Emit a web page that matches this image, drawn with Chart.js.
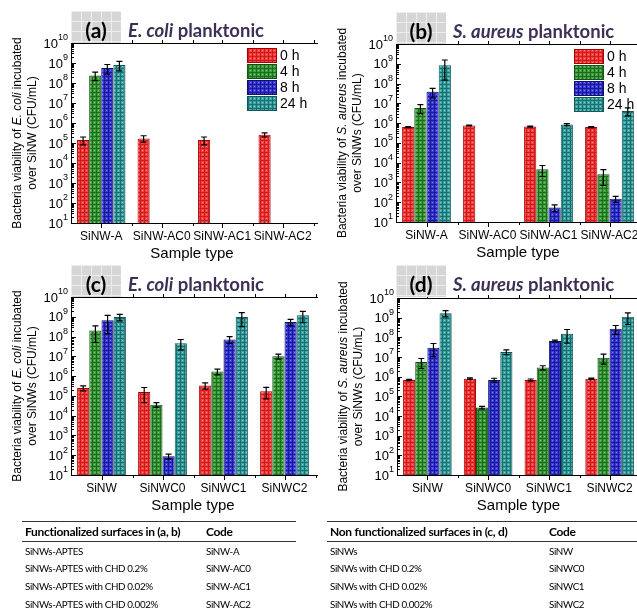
<!DOCTYPE html>
<html>
<head>
<meta charset="utf-8">
<script src="https://cdn.jsdelivr.net/npm/chart.js@4.4.1/dist/chart.umd.min.js"></script>
<style>
  body { margin: 0; width: 637px; height: 614px; overflow: hidden; background: #fff; position: relative; font-family: "Liberation Sans", Arial, sans-serif; }
  canvas { position: absolute; }
  .ttl { position: absolute; height: 32px; display: flex; align-items: center; }
  .box { width: 50px; height: 32px; background-color: #d6d6d6;
         background-image: linear-gradient(#ededed 1px, transparent 1px), linear-gradient(90deg, #ededed 1px, transparent 1px);
         background-size: 10px 10px; font: bold 21px Lato, sans-serif; color: #000; text-align: center; line-height: 38px; }
  .name { font: bold 18.5px Lato, sans-serif; color: #3d2f55; margin-left: 7px; padding-top: 6px; }
  table { position: absolute; border-collapse: collapse; font-family: Lato, sans-serif; color: #000; }
  th { font-size: 12px; letter-spacing: -0.3px; font-weight: bold; text-align: left; height: 19px; padding: 0 3px; border-top: 1.5px solid #333; border-bottom: 1px solid #333; }
  td { font-size: 9.8px; letter-spacing: -0.35px; height: 17.6px; padding: 0 3px; }
</style>
</head>
<body>
<canvas id="ca" width="318" height="262" style="left:0;top:0"></canvas>
<canvas id="cb" width="330" height="262" style="left:318px;top:0"></canvas>
<canvas id="cc" width="318" height="262" style="left:0;top:262px"></canvas>
<canvas id="cd" width="330" height="262" style="left:318px;top:262px"></canvas>

<div class="ttl" style="left:71px;top:11px"><div class="box">(a)</div><div class="name"><i>E. coli</i> planktonic</div></div>
<div class="ttl" style="left:396px;top:12px"><div class="box">(b)</div><div class="name"><i>S. aureus</i> planktonic</div></div>
<div class="ttl" style="left:71px;top:265px"><div class="box">(c)</div><div class="name"><i>E. coli</i> planktonic</div></div>
<div class="ttl" style="left:396px;top:265px"><div class="box">(d)</div><div class="name"><i>S. aureus</i> planktonic</div></div>

<table style="left:22px;top:521px;width:274px">
  <tr><th style="width:175px">Functionalized surfaces in (a, b)</th><th>Code</th></tr>
  <tr><td>SiNWs-APTES</td><td>SiNW-A</td></tr>
  <tr><td>SiNWs-APTES with CHD 0.2%</td><td>SiNW-AC0</td></tr>
  <tr><td>SiNWs-APTES with CHD 0.02%</td><td>SiNW-AC1</td></tr>
  <tr><td>SiNWs-APTES with CHD 0.002%</td><td>SiNW-AC2</td></tr>
</table>
<table style="left:327px;top:521px;width:320px">
  <tr><th style="width:213px">Non functionalized surfaces in (c, d)</th><th>Code</th></tr>
  <tr><td>SiNWs</td><td>SiNW</td></tr>
  <tr><td>SiNWs with CHD 0.2%</td><td>SiNWC0</td></tr>
  <tr><td>SiNWs with CHD 0.02%</td><td>SiNWC1</td></tr>
  <tr><td>SiNWs with CHD 0.002%</td><td>SiNWC2</td></tr>
</table>

<script>
// ---- data (CFU/mL), one row per incubation time, one column per sample ----
const times = ['0 h', '4 h', '8 h', '24 h']
const catsAB = ['SiNW-A', 'SiNW-AC0', 'SiNW-AC1', 'SiNW-AC2']
const catsCD = ['SiNW', 'SiNWC0', 'SiNWC1', 'SiNWC2']

const ecoliA = [
  [1.4e5, 1.7e5, 1.4e5, 2.6e5],
  [2.4e8, null, null, null],
  [5.6e8, null, null, null],
  [8.0e8, null, null, null]]
const ecoliAErr = [
  [6e4, 6e4, 6e4, 6e4],
  [1.1e8, 0, 0, 0],
  [2.8e8, 0, 0, 0],
  [4.0e8, 0, 0, 0]]

const saureusA = [
  [6.3e5, 7.6e5, 6.7e5, 6.3e5],
  [5.8e6, null, 4.6e3, 2.6e3],
  [3.8e7, null, 54, 148],
  [8.5e8, null, 8.5e5, 4.1e6]]
const saureusAErr = [
  [4e4, 4e4, 4e4, 4e4],
  [2.8e6, 0, 2.6e3, 1.9e3],
  [1.9e7, 0, 20, 50],
  [7.0e8, 0, 1e5, 1.8e6]]

const ecoliC = [
  [2.5e5, 1.55e5, 3.4e5, 1.7e5],
  [2.0e8, 3.6e4, 1.7e6, 1.0e7],
  [6.6e8, 89, 7.2e7, 5.5e8],
  [9.7e8, 4.6e7, 9.7e8, 1.18e9]]
const ecoliCErr = [
  [7e4, 1.1e5, 1.2e5, 1.0e5],
  [1.5e8, 1.0e4, 5.5e5, 2.8e6],
  [5.2e8, 25, 2.8e7, 1.9e8],
  [3.5e8, 2.5e7, 6.5e8, 6.8e8]]

const saureusC = [
  [6.8e5, 7.9e5, 6.8e5, 7.9e5],
  [5.5e6, 2.7e4, 2.9e6, 9.1e6],
  [2.95e7, 6.8e5, 6.5e7, 2.7e8],
  [1.7e9, 1.8e7, 1.5e8, 1.1e9]]
const saureusCErr = [
  [5e4, 7e4, 8e4, 6e4],
  [2.9e6, 4e3, 7e5, 4.8e6],
  [1.9e7, 1.5e5, 7e6, 1.3e8],
  [6e8, 5e6, 1e8, 6.5e8]]

// ---- styling ----
const fills = [
  {base: '#ff3d3d', line: '#c81e1e', dot: '#ff8a8a', border: '#a80000'},
  {base: '#3fa03f', line: '#1d6d1d', dot: '#7cc47c', border: '#165216'},
  {base: '#3b3be2', line: '#1a1a92', dot: '#8080f0', border: '#10106a'},
  {base: '#3ca5a5', line: '#1c6f6f', dot: '#86cccc', border: '#145656'}]
const FONT = '"Liberation Sans", Arial, sans-serif'
Chart.defaults.font.family = FONT

function makePattern(f) {
  const c = document.createElement('canvas')
  c.width = 4; c.height = 4
  const g = c.getContext('2d')
  g.fillStyle = f.base; g.fillRect(0, 0, 4, 4)
  g.fillStyle = f.line; g.fillRect(0, 0, 4, 1); g.fillRect(0, 0, 1, 4)
  g.fillStyle = f.dot; g.fillRect(2, 2, 1, 1)
  return g.createPattern(c, 'repeat')
}
const patterns = fills.map(makePattern)

function drawMixed(ctx, segs, cx, cy, size) {
  let total = 0
  segs.forEach(s => {
    ctx.font = (s[1] ? 'italic ' : '') + size + 'px ' + FONT
    total += ctx.measureText(s[0]).width
  })
  let x = cx - total / 2
  ctx.textAlign = 'left'
  segs.forEach(s => {
    ctx.font = (s[1] ? 'italic ' : '') + size + 'px ' + FONT
    ctx.fillText(s[0], x, cy)
    x += ctx.measureText(s[0]).width
  })
}

function decor(cfg) {
  return {
    id: 'decor',
    afterDatasetsDraw(chart) {
      const ctx = chart.ctx, y = chart.scales.y
      ctx.save()
      ctx.strokeStyle = '#000'; ctx.lineWidth = 1.2
      chart.data.datasets.forEach((ds, i) => {
        const meta = chart.getDatasetMeta(i)
        ds.data.forEach((v, j) => {
          if (v == null) return
          const sd = cfg.err[i][j]
          const bx = meta.data[j].x
          const yt = y.getPixelForValue(v + sd)
          const yb = y.getPixelForValue(Math.max(v - sd, v * 0.04))
          ctx.beginPath()
          ctx.moveTo(bx, yt); ctx.lineTo(bx, yb)
          ctx.moveTo(bx - 3, yt); ctx.lineTo(bx + 3, yt)
          ctx.moveTo(bx - 3, yb); ctx.lineTo(bx + 3, yb)
          ctx.stroke()
        })
      })
      ctx.restore()
    },
    afterDraw(chart) {
      const ctx = chart.ctx, a = chart.chartArea, x = chart.scales.x, y = chart.scales.y
      ctx.save()
      ctx.strokeStyle = '#000'; ctx.fillStyle = '#000'; ctx.lineWidth = 1
      // frame
      ctx.beginPath()
      ctx.moveTo(a.right + 5, a.top + 0.5); ctx.lineTo(a.left + 0.5, a.top + 0.5)
      ctx.lineTo(a.left + 0.5, a.bottom + 0.5); ctx.lineTo(a.right + 5, a.bottom + 0.5)
      ctx.stroke()
      // y ticks
      ctx.beginPath()
      for (let e = 1; e <= 10; e++) {
        const py = Math.round(y.getPixelForValue(Math.pow(10, e))) + 0.5
        ctx.moveTo(a.left, py); ctx.lineTo(a.left + 5, py)
        if (e < 10) for (let m = 2; m < 10; m++) {
          const pm = Math.round(y.getPixelForValue(m * Math.pow(10, e))) + 0.5
          ctx.moveTo(a.left, pm); ctx.lineTo(a.left + 3, pm)
        }
      }
      // x ticks
      const w = x.getPixelForValue(1) - x.getPixelForValue(0)
      for (let j = 0; j < 4; j++) {
        const cx = Math.round(x.getPixelForValue(j)) + 0.5
        ctx.moveTo(cx, a.bottom); ctx.lineTo(cx, a.bottom + 5)
        ctx.moveTo(cx, a.top); ctx.lineTo(cx, a.top - 3)
        const bx = Math.round(cx + w / 2) + 0.5
        ctx.moveTo(bx, a.bottom); ctx.lineTo(bx, a.bottom + 3)
        ctx.moveTo(bx, a.top); ctx.lineTo(bx, a.top - 3)
      }
      ctx.stroke()
      // y tick labels 10^n
      ctx.textBaseline = 'middle'
      for (let e = 1; e <= 10; e++) {
        const py = y.getPixelForValue(Math.pow(10, e))
        ctx.font = '9px ' + FONT
        const ew = ctx.measureText(String(e)).width
        ctx.textAlign = 'left'
        ctx.fillText(String(e), a.left - 3 - ew, py - 5)
        ctx.font = '13px ' + FONT
        ctx.textAlign = 'right'
        ctx.fillText('10', a.left - 3 - ew, py + 1)
      }
      // axis titles
      ctx.textBaseline = 'middle'
      ctx.font = '15px ' + FONT
      ctx.textAlign = 'center'
      ctx.fillText('Sample type', (a.left + a.right) / 2, a.bottom + 31)
      ctx.save()
      ctx.translate(a.left - 53, (a.top + a.bottom) / 2)
      ctx.rotate(-Math.PI / 2)
      drawMixed(ctx, cfg.ytitle1, 0, 0, 12)
      ctx.restore()
      ctx.save()
      ctx.translate(a.left - 38, (a.top + a.bottom) / 2)
      ctx.rotate(-Math.PI / 2)
      drawMixed(ctx, cfg.ytitle2, 0, 0, 12)
      ctx.restore()
      // legend inside plot
      if (cfg.legend) {
        ctx.textAlign = 'left'
        ctx.font = '14px ' + FONT
        times.forEach((t, i) => {
          const lx = a.right - 66, ly = a.top + 5 + i * 16
          ctx.fillStyle = patterns[i]
          ctx.fillRect(lx, ly, 30, 15)
          ctx.strokeStyle = fills[i].border
          ctx.strokeRect(lx + 0.5, ly + 0.5, 29, 14)
          ctx.fillStyle = '#000'
          ctx.fillText(t, lx + 33, ly + 8)
        })
      }
      ctx.restore()
    }
  }
}

function panel(id, L, T, W, H, area, cats, vals, errs, ytitle1, ytitle2, legend) {
  const datasets = times.map((t, i) => ({
    label: t,
    data: vals[i],
    backgroundColor: patterns[i],
    borderColor: fills[i].border,
    borderWidth: 1,
    categoryPercentage: 0.8,
    barPercentage: 1.0
  }))
  new Chart(document.getElementById(id), {
    type: 'bar',
    data: {labels: cats, datasets: datasets},
    options: {
      responsive: false,
      animation: false,
      devicePixelRatio: 1,
      layout: {padding: {left: 0, top: area.top - T, right: (L + W) - area.right, bottom: 0}},
      plugins: {legend: {display: false}, tooltip: {enabled: false}},
      scales: {
        x: {
          type: 'category', offset: true,
          grid: {display: false, drawTicks: false}, border: {display: false},
          ticks: {color: '#000', font: {size: 12}, padding: 6, maxRotation: 0, autoSkip: false},
          afterFit: s => { s.height = (T + H) - area.bottom }
        },
        y: {
          type: 'logarithmic', min: 10, max: 1e10,
          grid: {display: false, drawTicks: false}, border: {display: false},
          ticks: {display: false},
          afterFit: s => { s.width = area.left - L }
        }
      }
    },
    plugins: [decor({err: errs, ytitle1: ytitle1, ytitle2: ytitle2, legend: legend})]
  })
}

const ecTitle = [['Bacteria viability of ', false], ['E. coli', true], [' incubated', false]]
const saTitle = [['Bacteria viability of ', false], ['S. aureus', true], [' incubated', false]]

panel('ca', 0, 0, 318, 262, {left: 71, top: 43, right: 315, bottom: 223}, catsAB, ecoliA, ecoliAErr,
  ecTitle, [['over SiNW (CFU/mL)', false]], true)
panel('cb', 318, 0, 330, 262, {left: 396, top: 44, right: 640, bottom: 222}, catsAB, saureusA, saureusAErr,
  saTitle, [['over SiNWs (CFU/mL)', false]], true)
panel('cc', 0, 262, 318, 262, {left: 71, top: 297, right: 315, bottom: 475}, catsCD, ecoliC, ecoliCErr,
  ecTitle, [['over SiNWs (CFU/mL)', false]], false)
panel('cd', 318, 262, 330, 262, {left: 397, top: 298, right: 640, bottom: 475}, catsCD, saureusC, saureusCErr,
  saTitle, [['over SiNWs (CFU/mL)', false]], false)
</script>
</body>
</html>
